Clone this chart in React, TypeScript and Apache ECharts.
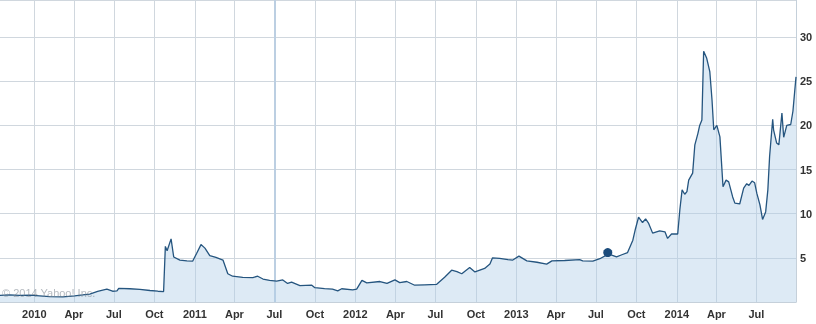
import React, { useEffect, useRef } from "react";
import * as echarts from "echarts";

const priceDates: string[] = [
  "2009-10-15","2009-11-06","2009-11-29","2009-12-22","2010-01-13","2010-02-05","2010-03-07","2010-04-03",
  "2010-04-21","2010-05-07","2010-05-25","2010-06-15","2010-06-28","2010-07-08","2010-07-12","2010-08-06",
  "2010-08-29","2010-09-21","2010-10-09","2010-10-22","2010-10-26","2010-10-30","2010-11-08","2010-11-14",
  "2010-11-28","2010-12-14","2010-12-27","2011-01-05","2011-01-15","2011-01-24","2011-02-04","2011-02-18",
  "2011-03-06","2011-03-17","2011-03-28","2011-04-20","2011-05-13","2011-05-24","2011-06-05","2011-06-20",
  "2011-07-06","2011-07-20","2011-07-31","2011-08-09","2011-08-28","2011-09-24","2011-10-01","2011-10-23",
  "2011-11-10","2011-11-22","2011-12-01","2011-12-26","2012-01-04","2012-01-16","2012-01-27","2012-02-26",
  "2012-03-13","2012-03-31","2012-04-11","2012-04-27","2012-05-15","2012-06-07","2012-07-04","2012-07-22",
  "2012-08-07","2012-08-19","2012-08-30","2012-09-17","2012-09-29","2012-10-21","2012-11-02","2012-11-08",
  "2012-11-24","2012-12-13","2012-12-24","2013-01-07","2013-01-25","2013-02-17","2013-03-11","2013-03-23",
  "2013-04-21","2013-05-25","2013-06-01","2013-06-24","2013-07-10","2013-07-28","2013-08-06","2013-08-17",
  "2013-08-29","2013-09-11","2013-09-23","2013-09-29","2013-10-06","2013-10-15","2013-10-22","2013-10-29",
  "2013-11-07","2013-11-23","2013-12-05","2013-12-11","2013-12-20","2014-01-03","2014-01-08","2014-01-13",
  "2014-01-19","2014-01-24","2014-01-28","2014-02-06","2014-02-11","2014-02-18","2014-02-22","2014-02-27",
  "2014-03-03","2014-03-10","2014-03-17","2014-03-22","2014-03-26","2014-04-02","2014-04-09","2014-04-16",
  "2014-04-23","2014-04-29","2014-05-08","2014-05-13","2014-05-24","2014-06-02","2014-06-09","2014-06-14",
  "2014-06-21","2014-06-27","2014-07-02","2014-07-09","2014-07-15","2014-07-22","2014-07-27","2014-07-31",
  "2014-08-07","2014-08-09","2014-08-16","2014-08-21","2014-08-28","2014-09-01","2014-09-08","2014-09-17",
  "2014-09-22","2014-09-29"
];

const priceValues: number[] = [
  0.75,0.8,0.75,0.78,0.7,0.62,0.58,0.7,
  0.8,0.9,1.2,1.45,1.22,1.25,1.55,1.5,
  1.42,1.3,1.22,1.18,6.3,5.8,7.15,5.1,
  4.75,4.65,4.62,5.5,6.5,6.1,5.25,5.05,
  4.75,3.2,2.92,2.8,2.77,2.92,2.6,2.45,
  2.36,2.5,2.1,2.25,1.85,1.9,1.62,1.52,
  1.45,1.26,1.5,1.38,1.45,2.44,2.17,2.32,
  2.1,2.5,2.2,2.32,1.9,1.95,2.0,2.8,
  3.6,3.45,3.2,3.9,3.4,3.8,4.3,5.0,
  4.93,4.8,4.75,5.2,4.66,4.5,4.29,4.66,
  4.7,4.8,4.65,4.62,4.9,5.4,5.3,5.1,
  5.35,5.6,7.0,8.3,9.6,9.0,9.4,8.9,
  7.8,8.05,7.95,7.2,7.7,7.7,10.5,12.7,
  12.2,12.5,13.8,14.6,17.8,19.1,20.0,20.6,
  28.4,27.6,26.1,22.9,19.5,20.0,18.7,13.05,
  13.8,13.6,11.9,11.2,11.1,12.9,13.4,13.2,
  13.7,13.5,12.3,11.0,9.35,10.2,12.7,16.5,
  20.7,19.5,18.0,17.8,21.4,18.65,20.0,20.1,
  21.6,25.5
];

const markerDates: string[] = ["2013-07-28"];
const markerValues: number[] = [5.6];

const quarterDates: string[] = [
  "2010-01-01","2010-04-01","2010-07-01","2010-10-01",
  "2011-01-01","2011-04-01","2011-07-01","2011-10-01",
  "2012-01-01","2012-04-01","2012-07-01","2012-10-01",
  "2013-01-01","2013-04-01","2013-07-01","2013-10-01",
  "2014-01-01","2014-04-01","2014-07-01"
];
const highlightDate = "2011-07-01";
const monthNames: Record<number, string> = { 3: "Apr", 6: "Jul", 9: "Oct" };
const yTicks: number[] = [5, 10, 15, 20, 25, 30];

const xMin = "2009-10-15";
const xMax = "2014-09-29";

const ts = (d: string) => Date.UTC(+d.slice(0, 4), +d.slice(5, 7) - 1, +d.slice(8, 10));

export default function App() {
  const ref = useRef<HTMLDivElement>(null);
  useEffect(() => {
    if (!ref.current) return;
    const chart = echarts.init(ref.current, undefined, { renderer: "svg" });
    const labelStyle = {
      color: "#333",
      fontFamily: "Liberation Sans, Arial, sans-serif",
      fontSize: 11,
      fontWeight: "bold" as const,
    };
    const gridColor = "#d0d7de";
    chart.setOption({
      animation: false,
      grid: { left: 0, right: 20, top: 0, bottom: 22 },
      xAxis: {
        type: "value",
        min: ts(xMin),
        max: ts(xMax),
        axisLine: { show: true, onZero: false, lineStyle: { color: "#c5d0da" } },
        axisTick: { show: false },
        splitLine: { show: false },
        axisLabel: {
          ...labelStyle,
          margin: 6,
          customValues: quarterDates.map(ts),
          formatter: (v: number) => {
            const dt = new Date(v);
            const m = dt.getUTCMonth();
            return m === 0 ? String(dt.getUTCFullYear()) : monthNames[m] || "";
          },
        },
      },
      yAxis: {
        type: "value",
        position: "right",
        min: 0,
        max: 34.2,
        interval: 5,
        axisLine: { show: true, lineStyle: { color: "#c5d0da" } },
        axisTick: { show: false },
        splitLine: { show: true, lineStyle: { color: gridColor, width: 1 } },
        axisLabel: {
          ...labelStyle,
          margin: 4,
          formatter: (v: number) => (yTicks.includes(v) ? String(v) : ""),
        },
      },
      graphic: [
        {
          type: "text",
          left: 2,
          top: 287,
          z: 10,
          style: {
            text: "© 2014 Yahoo! Inc.",
            fill: "rgba(120,130,140,0.55)",
            font: "11px 'Liberation Sans', Arial, sans-serif",
          },
        },
      ],
      series: [
        {
          type: "line",
          data: priceDates.map((d, i) => [ts(d), priceValues[i]]),
          symbol: "none",
          lineStyle: { color: "#25557f", width: 1.3 },
          areaStyle: { color: "rgba(175,205,232,0.6)" },
          z: 3,
          markLine: {
            silent: true,
            symbol: ["none", "none"],
            z: 1,
            label: { show: false },
            lineStyle: { color: gridColor, width: 1, type: "solid" },
            data: quarterDates.map((d) => ({
              xAxis: ts(d),
              lineStyle:
                d === highlightDate
                  ? { color: "#bccfe2", width: 2, type: "solid" }
                  : { color: gridColor, width: 1, type: "solid" },
            })),
          },
        },
        {
          type: "scatter",
          data: markerDates.map((d, i) => [ts(d), markerValues[i]]),
          symbol: "circle",
          symbolSize: 9,
          itemStyle: { color: "#1b4b7b", opacity: 1 },
          z: 5,
          silent: true,
        },
      ],
    });
    return () => chart.dispose();
  }, []);
  return (
    <div
      ref={ref}
      style={{ position: "fixed", left: 0, top: 0, width: 816, height: 324 }}
    />
  );
}
